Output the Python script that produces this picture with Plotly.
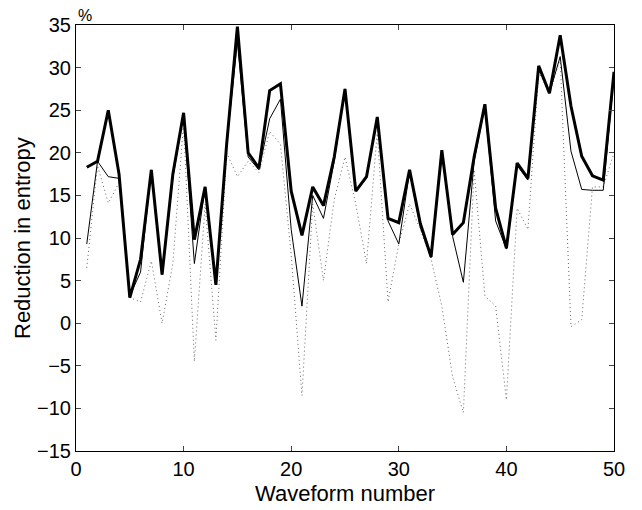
import plotly.graph_objects as go

waveform = list(range(1, 51))

reduction_thick = [18.3, 19.0, 25.0, 17.5, 3.0, 7.5, 18.0, 5.7, 17.5, 24.7,
                   9.8, 16.0, 4.5, 21.0, 34.8, 20.0, 18.2, 27.3, 28.1, 15.5,
                   10.3, 16.0, 13.8, 19.5, 27.5, 15.5, 17.2, 24.2, 12.3, 11.8,
                   18.0, 11.7, 7.8, 20.3, 10.4, 11.8, 19.5, 25.7, 13.5, 8.8,
                   18.8, 17.0, 30.2, 27.0, 33.8, 25.5, 19.6, 17.3, 16.8, 29.5]

reduction_thin = [9.3, 19.0, 17.2, 17.0, 3.2, 6.0, 18.0, 5.7, 17.0, 24.5,
                  7.0, 16.0, 4.5, 21.0, 33.0, 19.5, 18.0, 24.0, 26.3, 11.0,
                  2.0, 15.0, 12.3, 19.0, 27.5, 15.5, 17.0, 24.0, 12.0, 9.3,
                  17.8, 11.3, 7.7, 20.0, 10.2, 4.8, 19.0, 25.5, 12.0, 8.7,
                  18.5, 16.8, 30.0, 27.0, 31.3, 20.2, 15.7, 15.6, 15.6, 29.0]

reduction_dotted = [6.5, 18.5, 14.1, 16.5, 3.0, 2.5, 7.3, 0.0, 7.0, 23.5,
                    -4.5, 14.0, -2.0, 20.0, 17.2, 19.0, 17.7, 22.5, 21.0, 8.0,
                    -8.5, 14.0, 5.0, 14.5, 19.5, 14.0, 7.0, 22.5, 2.5, 9.3,
                    14.0, 11.0, 7.5, 2.0, -6.3, -10.5, 18.0, 3.2, 2.0, -9.0,
                    13.5, 11.0, 29.5, 27.0, 31.0, -0.4, 0.4, 16.0, 16.0, 20.0]

x_ticks = [0, 10, 20, 30, 40, 50]
y_ticks = [-15, -10, -5, 0, 5, 10, 15, 20, 25, 30, 35]
x_title = "Waveform number"
y_title = "Reduction in entropy"
unit_label = "%"

fig = go.Figure()
fig.add_trace(go.Scatter(x=waveform, y=reduction_dotted, mode="lines",
                         line=dict(color="#666666", width=1, dash="1px,3px"),
                         showlegend=False))
fig.add_trace(go.Scatter(x=waveform, y=reduction_thin, mode="lines",
                         line=dict(color="black", width=1),
                         showlegend=False))
fig.add_trace(go.Scatter(x=waveform, y=reduction_thick, mode="lines",
                         line=dict(color="black", width=3),
                         showlegend=False))

font = "Liberation Sans, Arial, sans-serif"
# page adds an 8px body margin, so the figure is 8px smaller and offset
fig.update_layout(
    width=634, height=502,
    margin=dict(l=68, r=28, t=17, b=59, autoexpand=False),
    paper_bgcolor="white", plot_bgcolor="white",
    font=dict(family=font, size=20, color="black"),
    showlegend=False,
)
fig.update_xaxes(range=[0, 50], tickvals=x_ticks, ticks="inside", ticklen=5,
                 showline=True, linecolor="black", linewidth=1, mirror="ticks",
                 showgrid=False, zeroline=False, tickfont=dict(size=20),
                 automargin=False)
fig.update_yaxes(range=[-15, 35], tickvals=y_ticks, ticks="inside", ticklen=5,
                 showline=True, linecolor="black", linewidth=1, mirror="ticks",
                 showgrid=False, zeroline=False, tickfont=dict(size=20),
                 automargin=False)
fig.add_annotation(text=x_title, xref="paper", yref="paper", x=0.5, y=0,
                   xanchor="center", yanchor="middle", yshift=-42,
                   showarrow=False, font=dict(size=22))
fig.add_annotation(text=y_title, xref="paper", yref="paper", x=0, y=0.5,
                   xanchor="center", yanchor="middle", xshift=-54,
                   textangle=-90, showarrow=False, font=dict(size=22))
fig.add_annotation(text=unit_label, xref="paper", yref="paper", x=0, y=1,
                   xanchor="left", yanchor="bottom", showarrow=False,
                   font=dict(size=16), yshift=-1)

fig.write_html("out.html")
